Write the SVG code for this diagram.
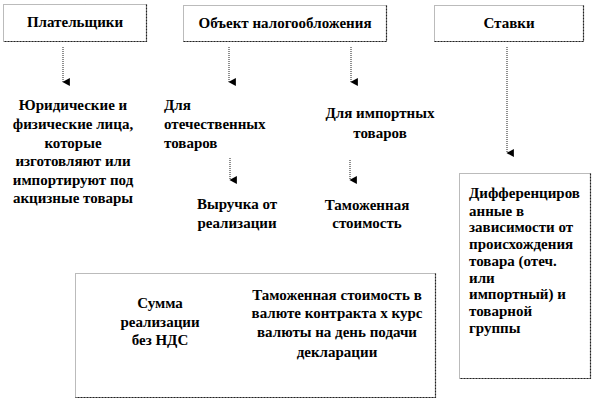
<svg xmlns="http://www.w3.org/2000/svg" width="594" height="402" viewBox="0 0 594 402">
<defs>
<style>
.t text{font-weight:bold;font-size:15px;fill:#000}
.c{text-anchor:middle}
.box{fill:#fff;stroke:#777;stroke-width:1;stroke-dasharray:1 1}
.sh{fill:none;stroke:#222;stroke-width:1.2;stroke-dasharray:2 1}
.conn line{stroke:#444;stroke-width:1.2;stroke-dasharray:1 1}
</style>
<marker id="ah" markerWidth="8" markerHeight="8" refX="3.5" refY="6" orient="auto" markerUnits="userSpaceOnUse" viewBox="0 0 7 7">
<path d="M0,0 L7,0 L3.5,6.5 Z" fill="#000"/>
</marker>
</defs>
<rect width="594" height="402" fill="#fff"/>
<g class="t" font-family="Liberation Serif, DejaVu Serif, serif">
<g id="payers">
<rect class="box" x="3.5" y="4.5" width="143" height="37"/>
<path class="sh" d="M146.5,4.5 V41.5 H3.5"/>
<text class="c" x="75" y="27">Плательщики</text>
</g>
<g id="object">
<rect class="box" x="183.5" y="5.5" width="203" height="36"/>
<path class="sh" d="M386.5,5.5 V41.5 H183.5"/>
<text class="c" x="285" y="28">Объект налогообложения</text>
</g>
<g id="rates">
<rect class="box" x="434.5" y="5.5" width="149" height="36"/>
<path class="sh" d="M583.5,5.5 V41.5 H434.5"/>
<text class="c" x="509" y="28">Ставки</text>
</g>

<g id="persons">
<text class="c" x="73" y="110">Юридические и</text>
<text class="c" x="73" y="129">физические  лица,</text>
<text class="c" x="73" y="148">которые</text>
<text class="c" x="73" y="166">изготовляют или</text>
<text class="c" x="73" y="185">импортируют под</text>
<text class="c" x="73" y="203">акцизные товары</text>
</g>
<g id="domestic">
<text x="164" y="110">Для</text>
<text x="164" y="129">отечественных</text>
<text x="164" y="148">товаров</text>
</g>
<g id="imported">
<text class="c" x="380" y="118">Для импортных</text>
<text class="c" x="380" y="138">товаров</text>
</g>
<g id="revenue">
<text class="c" x="237" y="209">Выручка  от</text>
<text class="c" x="237" y="228">реализации</text>
</g>
<g id="customs">
<text class="c" x="367" y="210">Таможенная</text>
<text class="c" x="367" y="228">стоимость</text>
</g>

<g id="bottom">
<rect class="box" x="75.5" y="273.5" width="360" height="124"/>
<path class="sh" d="M435.5,273.5 V397.5 H75.5"/>
<text class="c" x="160" y="308">Сумма</text>
<text class="c" x="160" y="327">реализации</text>
<text class="c" x="160" y="345">без НДС</text>
<text class="c" x="337" y="300">Таможенная  стоимость в</text>
<text class="c" x="337" y="318">валюте контракта х курс</text>
<text class="c" x="337" y="337">валюты на день подачи</text>
<text class="c" x="337" y="357">декларации</text>
</g>

<g id="diff">
<rect class="box" x="459.5" y="173.5" width="131" height="205"/>
<path class="sh" d="M590.5,173.5 V378.5 H459.5"/>
<text x="469" y="198">Дифференциров</text>
<text x="469" y="216">анные в</text>
<text x="469" y="232">зависимости от</text>
<text x="469" y="249">происхождения</text>
<text x="469" y="266">товара (отеч.</text>
<text x="469" y="283">или</text>
<text x="469" y="299">импортный) и</text>
<text x="469" y="316">товарной</text>
<text x="469" y="333">группы</text>
</g>
</g>
<g class="conn" id="connectors">
<line x1="63" y1="47" x2="63" y2="82" marker-end="url(#ah)"/>
<line x1="229" y1="47" x2="229" y2="82" marker-end="url(#ah)"/>
<line x1="351" y1="47" x2="351" y2="82" marker-end="url(#ah)"/>
<line x1="507" y1="47" x2="507" y2="153" marker-end="url(#ah)"/>
<line x1="230" y1="158" x2="230" y2="180" marker-end="url(#ah)"/>
<line x1="350" y1="160" x2="350" y2="180" marker-end="url(#ah)"/>
</g>
</svg>
